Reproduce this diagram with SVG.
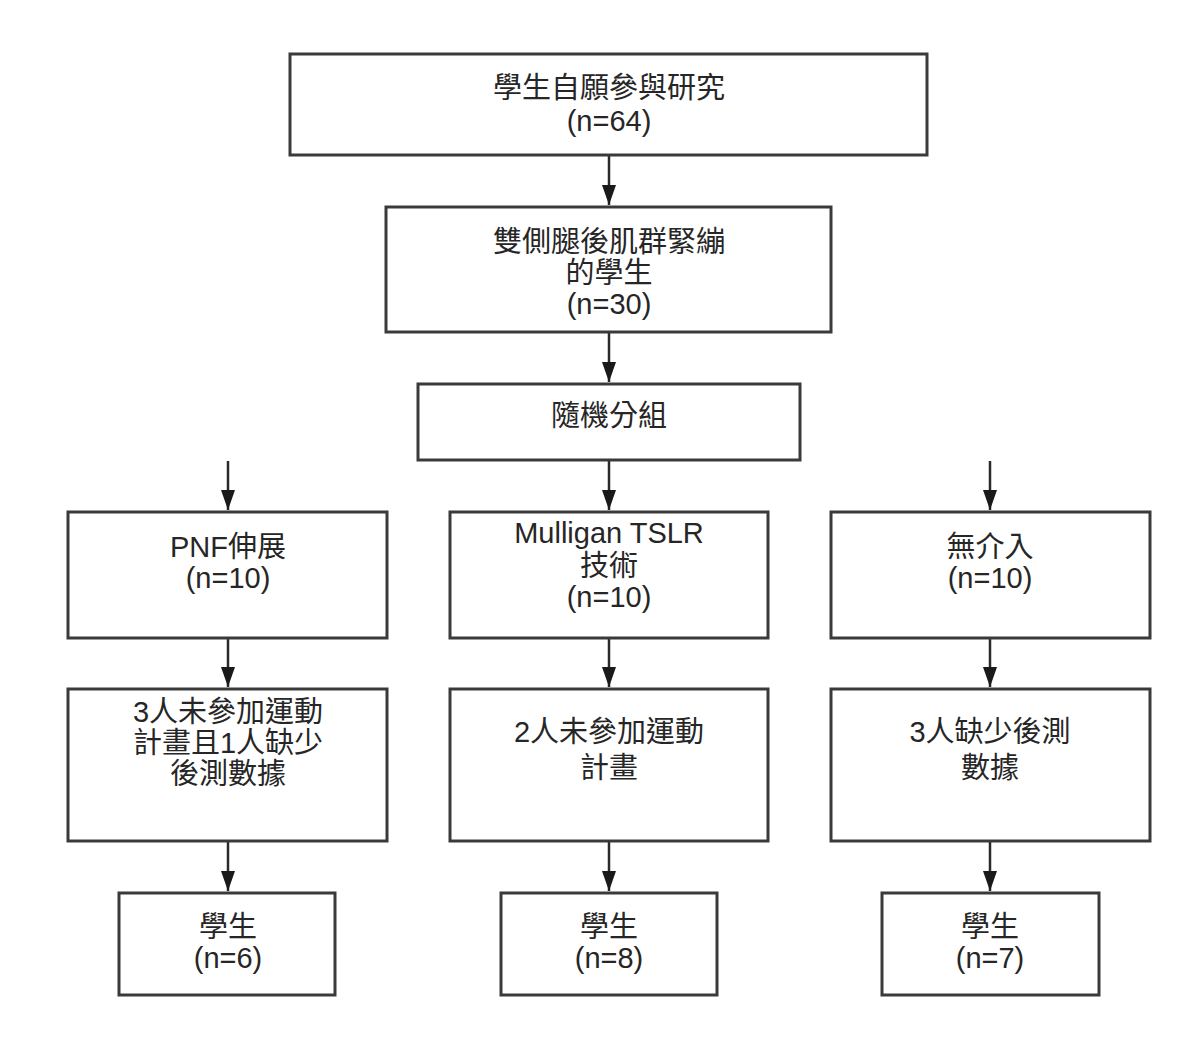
<svg xmlns="http://www.w3.org/2000/svg" width="1200" height="1038" viewBox="0 0 1200 1038">
<style>
.box{fill:#fff;stroke:#3a3a3a;stroke-width:3}
.t{font-family:"Liberation Sans","Noto Sans CJK TC",sans-serif;font-size:29px;fill:#262626;text-anchor:middle}
.c{stroke:#2a2a2a;stroke-width:2.5;fill:none}
</style>
<defs>
<marker id="a" markerWidth="20" markerHeight="14" refX="20" refY="7" orient="auto" markerUnits="userSpaceOnUse" viewBox="0 0 20 14">
<path d="M0,0 L20,7 L0,14 Z" fill="#1a1a1a"/>
</marker>
</defs>
<rect width="1200" height="1038" fill="#fff"/>
<g id="connectors">
<line class="c" x1="609" y1="156" x2="609" y2="205" marker-end="url(#a)"/>
<line class="c" x1="609" y1="333" x2="609" y2="382" marker-end="url(#a)"/>
<line class="c" x1="609" y1="461" x2="609" y2="510" marker-end="url(#a)"/>
<line class="c" x1="228" y1="461" x2="228" y2="510" marker-end="url(#a)"/>
<line class="c" x1="990" y1="461" x2="990" y2="510" marker-end="url(#a)"/>
<line class="c" x1="228" y1="639" x2="228" y2="687" marker-end="url(#a)"/>
<line class="c" x1="609" y1="639" x2="609" y2="687" marker-end="url(#a)"/>
<line class="c" x1="990" y1="639" x2="990" y2="687" marker-end="url(#a)"/>
<line class="c" x1="228" y1="842" x2="228" y2="891" marker-end="url(#a)"/>
<line class="c" x1="609" y1="842" x2="609" y2="891" marker-end="url(#a)"/>
<line class="c" x1="990" y1="842" x2="990" y2="891" marker-end="url(#a)"/>
</g>
<g id="n1"><rect class="box" x="290" y="54" width="637" height="101"/>
<text class="t" x="609" y="98">學生自願參與研究</text><text class="t" x="609" y="131">(n=64)</text></g>
<g id="n2"><rect class="box" x="386" y="207" width="445" height="125"/>
<text class="t" x="609" y="252">雙側腿後肌群緊繃</text><text class="t" x="609" y="283">的學生</text><text class="t" x="609" y="314">(n=30)</text></g>
<g id="n3"><rect class="box" x="418" y="384" width="382" height="76"/>
<text class="t" x="609" y="426">隨機分組</text></g>
<g id="n4"><rect class="box" x="68" y="512" width="319" height="126"/>
<text class="t" x="228" y="557">PNF伸展</text><text class="t" x="228" y="588">(n=10)</text></g>
<g id="n5"><rect class="box" x="450" y="512" width="318" height="126"/>
<text class="t" x="609" y="543">Mulligan TSLR</text><text class="t" x="609" y="576">技術</text><text class="t" x="609" y="607">(n=10)</text></g>
<g id="n6"><rect class="box" x="831" y="512" width="319" height="126"/>
<text class="t" x="990" y="557">無介入</text><text class="t" x="990" y="588">(n=10)</text></g>
<g id="n7"><rect class="box" x="68" y="689" width="319" height="152"/>
<text class="t" x="228" y="722">3人未參加運動</text><text class="t" x="228" y="753">計畫且1人缺少</text><text class="t" x="228" y="784">後測數據</text></g>
<g id="n8"><rect class="box" x="450" y="689" width="318" height="152"/>
<text class="t" x="609" y="742">2人未參加運動</text><text class="t" x="609" y="778">計畫</text></g>
<g id="n9"><rect class="box" x="831" y="689" width="319" height="152"/>
<text class="t" x="990" y="742">3人缺少後測</text><text class="t" x="990" y="778">數據</text></g>
<g id="n10"><rect class="box" x="119" y="893" width="216" height="102"/>
<text class="t" x="228" y="937">學生</text><text class="t" x="228" y="968">(n=6)</text></g>
<g id="n11"><rect class="box" x="501" y="893" width="216" height="102"/>
<text class="t" x="609" y="937">學生</text><text class="t" x="609" y="968">(n=8)</text></g>
<g id="n12"><rect class="box" x="882" y="893" width="217" height="102"/>
<text class="t" x="990" y="937">學生</text><text class="t" x="990" y="968">(n=7)</text></g>
</svg>
